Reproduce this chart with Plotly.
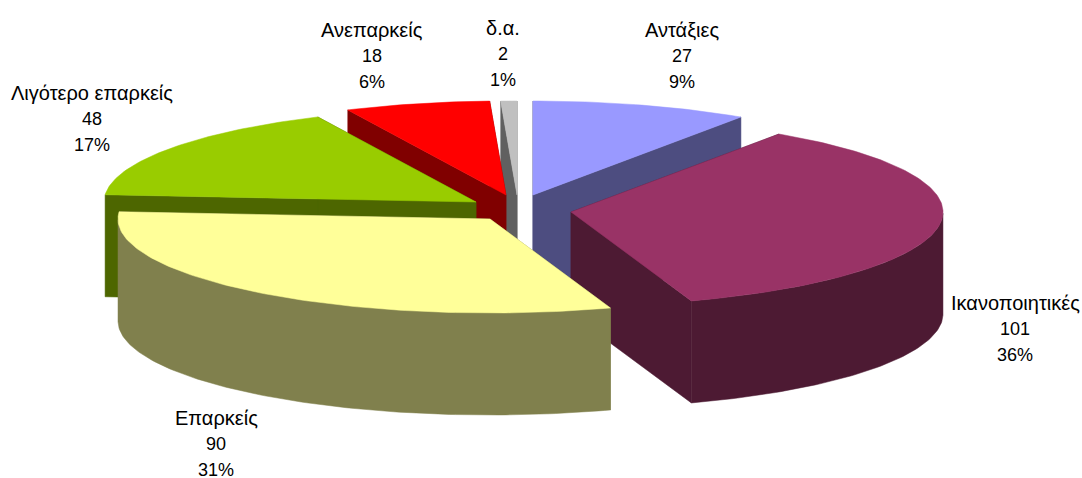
import numpy as np
import plotly.graph_objects as go

categories = ["Αντάξιες", "Ικανοποιητικές", "Επαρκείς", "Λιγότερο επαρκείς", "Ανεπαρκείς", "δ.α."]
values = [27, 101, 90, 48, 18, 2]
percents = ["9%", "36%", "31%", "17%", "6%", "1%"]
top_colors = ["#9999FF", "#993366", "#FFFF99", "#99CC00", "#FF0000", "#C0C0C0"]
side_colors = ["#4D4D80", "#4D1A33", "#80804D", "#4D6600", "#800000", "#606060"]
apex_x = [533, 571, 490, 476, 506, 517]
apex_y = [195, 212, 219, 202, 195, 195]
label_x = [682, 1015, 216, 92, 372, 503]
label_y = [30, 303, 418, 93, 30, 28]
draw_order = [0, 5, 4, 3, 1, 2]

RX, RY, DEPTH = 372, 94, 102
LINE = 26

total = sum(values)
edges = np.concatenate([[0], np.cumsum(values)]) / total * 2 * np.pi

fig = go.Figure()


def poly(xs, ys, color):
    fig.add_trace(go.Scatter(x=xs, y=ys, mode="lines", fill="toself", fillcolor=color,
                             line=dict(color=color, width=0.5), hoverinfo="skip", showlegend=False))


for i in draw_order:
    t = np.linspace(edges[i], edges[i + 1], max(int((edges[i + 1] - edges[i]) * 60), 3))
    rx = apex_x[i] + RX * np.sin(t)
    ry = apex_y[i] - RY * np.cos(t)
    ax, ay = apex_x[i], apex_y[i]
    poly([ax, rx[0], rx[0], ax, ax], [ay, ry[0], ry[0] + DEPTH, ay + DEPTH, ay], side_colors[i])
    poly([ax, rx[-1], rx[-1], ax, ax], [ay, ry[-1], ry[-1] + DEPTH, ay + DEPTH, ay], side_colors[i])
    front = np.cos(t) <= 0
    if front.any():
        fx, fy = rx[front], ry[front]
        poly(list(fx) + list(fx[::-1]) + [fx[0]], list(fy) + list((fy + DEPTH)[::-1]) + [fy[0]], side_colors[i])
    poly([ax] + list(rx) + [ax], [ay] + list(ry) + [ay], top_colors[i])

for i, c in enumerate(categories):
    for k, (txt, size) in enumerate([(c, 20), (str(values[i]), 18), (percents[i], 18)]):
        fig.add_annotation(x=label_x[i], y=label_y[i] + k * LINE, xref="x", yref="y", showarrow=False,
                           text=txt, font=dict(family="Liberation Sans, Arial, sans-serif", size=size, color="#000000"))

fig.update_layout(width=1082, height=478, margin=dict(l=0, r=0, t=0, b=0),
                  paper_bgcolor="#FFFFFF", plot_bgcolor="#FFFFFF", showlegend=False,
                  xaxis=dict(range=[0, 1082], visible=False, fixedrange=True),
                  yaxis=dict(range=[478, 0], visible=False, fixedrange=True))
fig.write_html("out.html", config=dict(displayModeBar=False),
               post_script="document.body.style.margin='0';document.body.style.overflow='hidden';")
